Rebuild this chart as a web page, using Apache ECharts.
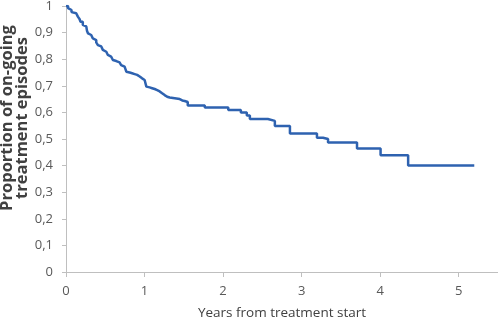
<!DOCTYPE html>
<html>
<head>
<meta charset="utf-8">
<script src="https://cdn.jsdelivr.net/npm/echarts@6/dist/echarts.min.js"></script>
<style>
  html, body { margin: 0; padding: 0; background: #fff; }
  #chart { width: 498px; height: 320px; }
</style>
</head>
<body>
<div id="chart"></div>
<script>
// time (years) at which the proportion drops to the given level
const years = [0, 0.026, 0.045, 0.07, 0.089, 0.13, 0.151, 0.172, 0.185, 0.214, 0.236, 0.258,
  0.268, 0.281, 0.3, 0.321, 0.342, 0.364, 0.385, 0.406, 0.427, 0.449, 0.469, 0.491, 0.513,
  0.533, 0.555, 0.574, 0.597, 0.619, 0.64, 0.661, 0.682, 0.702, 0.721, 0.746, 0.768, 0.788,
  0.81, 0.842, 0.874, 0.906, 0.938, 0.969, 1.001, 1.023, 1.043, 1.065, 1.097, 1.129, 1.161,
  1.193, 1.224, 1.256, 1.288, 1.32, 1.384, 1.448, 1.48, 1.511, 1.55, 1.767, 2.066, 2.226,
  2.302, 2.341, 2.57, 2.659, 2.851, 3.195, 3.272, 3.336, 3.705, 4.005, 4.356, 5.198];
const proportion = [1, 0.992, 0.985, 0.977, 0.973, 0.966, 0.96, 0.951, 0.941, 0.929, 0.923, 0.916,
  0.906, 0.897, 0.891, 0.885, 0.878, 0.872, 0.863, 0.853, 0.848, 0.841, 0.835, 0.828, 0.822,
  0.816, 0.81, 0.806, 0.797, 0.793, 0.791, 0.788, 0.785, 0.778, 0.772, 0.765, 0.753, 0.75,
  0.747, 0.744, 0.741, 0.735, 0.728, 0.722, 0.715, 0.697, 0.694, 0.691, 0.688, 0.684, 0.679,
  0.672, 0.665, 0.659, 0.656, 0.653, 0.65, 0.645, 0.643, 0.639, 0.626, 0.618, 0.609, 0.6,
  0.588, 0.575, 0.568, 0.549, 0.521, 0.505, 0.5, 0.487, 0.464, 0.439, 0.4, 0.4];
const xTicks = [0, 1, 2, 3, 4, 5];

const chart = echarts.init(document.getElementById("chart"), null, { renderer: "canvas" });

const labelColor = "#595959";
const axisColor = "#bfbfbf";

chart.setOption({
  animation: false,
  grid: { left: 66, top: 6, right: 0, bottom: 48, outerBoundsMode: "none", containLabel: false },
  xAxis: {
    type: "value",
    min: 0,
    max: 5.5,
    interval: 1,
    name: "Years from treatment start",
    nameLocation: "middle",
    nameGap: 34,
    nameTextStyle: { color: "#404040", fontSize: 13.5, fontFamily: "Open Sans" },
    axisLine: { lineStyle: { color: axisColor, width: 1 } },
    axisTick: { show: true, length: 5, customValues: xTicks, lineStyle: { color: axisColor } },
    axisLabel: { customValues: xTicks, color: labelColor, fontSize: 13, fontFamily: "Open Sans", margin: 13 },
    splitLine: { show: false },
  },
  yAxis: {
    type: "value",
    min: 0,
    max: 1,
    interval: 0.1,
    axisLine: { show: true, lineStyle: { color: axisColor, width: 1 } },
    axisTick: { show: true, length: 4, lineStyle: { color: axisColor } },
    axisLabel: {
      color: labelColor,
      fontSize: 13,
      fontFamily: "Open Sans",
      margin: 13,
      formatter: (v) => String(Math.round(v * 10) / 10).replace(".", ","),
    },
    splitLine: { show: false },
  },
  graphic: [
    {
      type: "text",
      x: 15,
      y: 118,
      rotation: Math.PI / 2,
      style: {
        text: "Proportion of on-going\ntreatment episodes",
        fill: "#404040",
        font: "bold 16.5px 'Open Sans'",
        textAlign: "center",
        textVerticalAlign: "middle",
        lineHeight: 15,
      },
    },
  ],
  series: [
    {
      type: "line",
      step: "end",
      showSymbol: false,
      data: years.map((t, i) => [t, proportion[i]]),
      lineStyle: { color: "#2e62b0", width: 2.5 },
    },
  ],
});
</script>
</body>
</html>
